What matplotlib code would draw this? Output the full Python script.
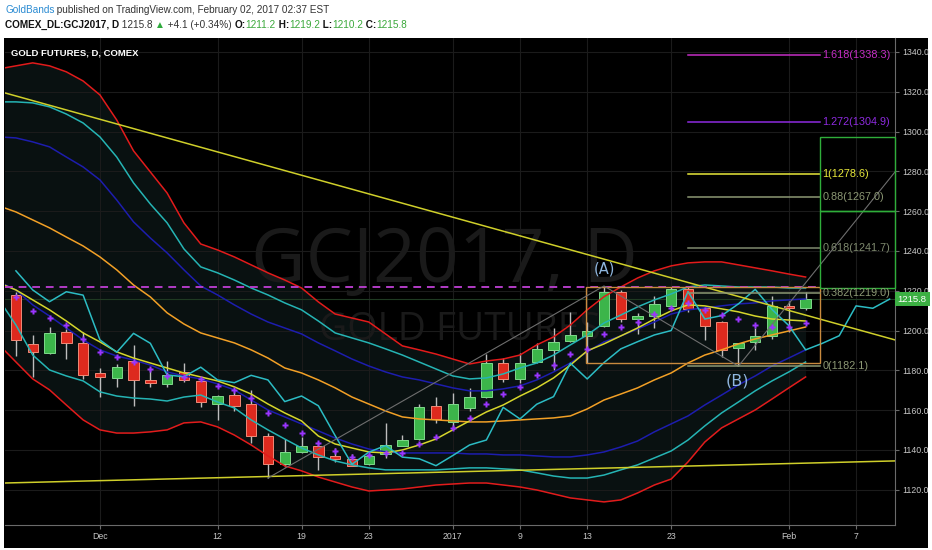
import numpy as np
import matplotlib
matplotlib.use("Agg")
import matplotlib.pyplot as plt
import matplotlib.transforms as mtrans
from matplotlib.patches import Rectangle
from matplotlib import font_manager

# --- candles (bar index 0 = 1 Dec 2016, trading days only) ---
bar_idx = list(range(-5, 43))
opens = [1217.9, 1193.1, 1188.6, 1199.1, 1193.6, 1178.6, 1176.3, 1184.7, 1175.2, 1173.1, 1179.0, 1174.7,
         1163.1, 1167.6, 1163.0, 1147.2, 1133.0, 1138.9, 1142.2, 1137.0, 1135.5, 1133.0, 1138.0, 1142.2,
         1145.4, 1162.1, 1154.3, 1161.3, 1166.5, 1183.6, 1175.9, 1184.1, 1190.2, 1194.8, 1197.4, 1202.5,
         1219.6, 1205.8, 1207.1, 1212.4, 1220.7, 1211.2, 1204.2, 1191.1, 1194.4, 1197.3, 1212.4, 1211.2]
highs = [1219.4, 1197.8, 1202.0, 1200.6, 1199.5, 1181.0, 1183.2, 1192.8, 1181.0, 1184.9, 1183.6, 1176.0,
         1167.5, 1169.3, 1170.2, 1148.7, 1145.4, 1146.7, 1144.2, 1141.0, 1137.8, 1138.3, 1153.4, 1147.5,
         1163.0, 1166.5, 1168.5, 1171.0, 1188.2, 1186.0, 1188.9, 1193.6, 1201.5, 1209.5, 1204.5, 1222.4,
         1220.4, 1209.0, 1217.4, 1222.1, 1222.1, 1212.0, 1204.8, 1193.6, 1201.2, 1217.4, 1214.9, 1219.2]
lows = [1187.2, 1176.8, 1188.0, 1185.7, 1175.5, 1166.4, 1171.5, 1162.1, 1171.8, 1171.5, 1174.4, 1161.4,
        1155.3, 1159.8, 1143.4, 1125.9, 1131.6, 1138.5, 1130.0, 1133.9, 1132.0, 1132.5, 1135.9, 1141.8,
        1145.0, 1153.7, 1150.0, 1159.8, 1166.0, 1174.4, 1173.5, 1183.8, 1180.1, 1194.5, 1183.6, 1201.7,
        1204.5, 1198.3, 1201.2, 1211.0, 1209.5, 1195.3, 1186.9, 1182.1, 1190.3, 1195.6, 1199.5, 1210.2]
closes = [1195.3, 1189.1, 1198.6, 1193.6, 1177.7, 1176.8, 1181.6, 1175.2, 1173.8, 1177.5, 1175.2, 1164.3,
          1167.1, 1162.2, 1147.2, 1132.8, 1138.9, 1142.2, 1136.4, 1135.6, 1132.1, 1137.2, 1142.5, 1145.0,
          1161.4, 1155.6, 1163.0, 1166.8, 1183.6, 1175.7, 1183.9, 1190.8, 1194.4, 1197.8, 1200.0, 1219.6,
          1205.8, 1207.5, 1213.4, 1220.7, 1210.6, 1202.5, 1190.3, 1193.6, 1197.4, 1212.4, 1211.2, 1215.8]
closes_before = [1230.0, 1220.4, 1214.5, 1219.5, 1217.8]  # 5 bars left of the window
close_shift = 5

# purple crosses
cross_vals = [1217.0, 1210.0, 1206.2, 1202.8, 1195.6, 1189.1, 1186.9, 1184.4, 1180.6, 1177.4, 1176.8, 1175.5,
              1172.3, 1170.2, 1166.0, 1158.7, 1152.6, 1148.7, 1143.7, 1139.7, 1136.6, 1137.5, 1138.3, 1138.6,
              1142.8, 1146.4, 1150.9, 1156.2, 1163.0, 1168.1, 1171.5, 1177.7, 1182.7, 1188.2, 1190.8, 1198.3,
              1201.7, 1204.5, 1208.2, 1211.2, 1213.7, 1210.5, 1207.8, 1205.6, 1202.8, 1202.0, 1202.0, 1204.0]

# --- bands ---
band_idx = list(range(-6, 43))
red_up = [1331.5, 1333.0, 1334.5, 1333.0, 1330.0, 1325.4, 1318.4, 1305.8, 1290.3, 1279.7, 1269.1, 1254.1,
          1243.5, 1240.5, 1237.0, 1233.0, 1229.0, 1225.4, 1221.4, 1214.4, 1208.3, 1206.3, 1204.3, 1198.3,
          1192.3, 1190.3, 1188.2, 1185.7, 1183.2, 1184.7, 1185.7, 1187.7, 1192.8, 1196.8, 1202.8, 1210.4,
          1217.0, 1221.9, 1226.4, 1230.0, 1232.5, 1234.0, 1234.5, 1234.5, 1233.0, 1231.5, 1230.0, 1228.4, 1226.9]
red_lo = [1192.8, 1184.2, 1175.7, 1170.2, 1162.6, 1155.1, 1150.1, 1148.5, 1148.5, 1149.1, 1150.1, 1153.6,
          1154.1, 1151.6, 1147.5, 1142.5, 1137.0, 1132.0, 1129.5, 1126.4, 1123.9, 1121.4, 1119.4, 1119.9,
          1120.4, 1121.4, 1122.4, 1122.9, 1123.4, 1123.4, 1122.4, 1121.4, 1119.9, 1117.9, 1115.9, 1114.9,
          1113.9, 1114.9, 1118.4, 1122.4, 1125.4, 1134.0, 1144.0, 1151.1, 1155.6, 1160.1, 1165.6, 1171.2, 1176.7]
cyan_up = [1314.9, 1314.9, 1314.4, 1312.4, 1308.8, 1304.3, 1297.3, 1287.2, 1274.2, 1263.6, 1254.1, 1241.0,
           1232.0, 1229.0, 1225.4, 1221.4, 1217.9, 1213.9, 1210.4, 1204.8, 1198.8, 1196.3, 1193.8, 1190.8,
           1187.7, 1184.2, 1180.7, 1177.2, 1175.7, 1176.2, 1178.2, 1181.2, 1183.7, 1187.7, 1192.8, 1197.8,
           1203.8, 1207.8, 1211.9, 1215.4, 1218.4, 1221.9, 1222.9, 1222.4, 1221.9, 1221.9, 1221.9, 1221.4, 1221.4]
cyan_lo = [1215.4, 1202.8, 1187.7, 1180.2, 1177.2, 1174.7, 1169.2, 1167.1, 1166.1, 1165.6, 1164.6, 1166.6,
           1167.6, 1164.1, 1161.1, 1155.1, 1150.1, 1145.5, 1141.0, 1137.5, 1134.5, 1132.5, 1131.0, 1130.0,
           1130.0, 1130.0, 1130.0, 1130.5, 1131.0, 1131.0, 1130.5, 1130.0, 1128.5, 1126.9, 1125.9, 1125.9,
           1127.4, 1130.0, 1132.5, 1136.0, 1139.5, 1145.0, 1152.1, 1158.6, 1164.1, 1169.7, 1174.7, 1179.2, 1184.2]
blue_up = [1297.3, 1296.8, 1294.8, 1292.3, 1287.2, 1282.2, 1275.7, 1265.6, 1254.6, 1246.5, 1239.0, 1230.5,
           1222.4, 1217.9, 1212.9, 1208.3, 1204.3, 1201.3, 1198.3, 1193.8, 1189.8, 1185.7, 1182.2, 1179.2,
           1176.7, 1175.2, 1173.2, 1171.2, 1169.7, 1169.7, 1170.7, 1172.2, 1175.2, 1179.2, 1183.7, 1189.3,
           1194.3, 1197.3, 1200.8, 1204.3, 1208.3, 1210.4, 1211.4, 1212.4, 1213.4, 1213.9, 1214.9, 1215.4, 1215.9]
blue_lo = [1224.4, 1220.4, 1212.9, 1207.3, 1201.3, 1195.3, 1190.3, 1187.2, 1185.2, 1182.7, 1179.2, 1177.2,
           1175.7, 1173.2, 1170.2, 1165.1, 1160.1, 1156.6, 1153.1, 1149.6, 1146.0, 1143.0, 1140.5, 1139.0,
           1138.5, 1138.5, 1138.5, 1138.5, 1138.0, 1138.0, 1137.5, 1137.5, 1137.0, 1136.5, 1136.5, 1137.5,
           1139.0, 1141.5, 1144.5, 1149.1, 1153.1, 1157.1, 1162.6, 1167.6, 1172.7, 1177.2, 1182.2, 1186.2, 1190.3]
orange_mid = [1262.6, 1259.6, 1255.6, 1251.6, 1247.0, 1242.5, 1237.0, 1230.5, 1222.9, 1216.9, 1208.9, 1203.3,
              1198.8, 1196.3, 1193.8, 1190.3, 1186.2, 1181.2, 1178.7, 1175.2, 1171.2, 1166.6, 1163.1, 1159.6,
              1156.6, 1155.6, 1155.1, 1154.6, 1154.1, 1154.1, 1154.6, 1155.1, 1155.6, 1156.1, 1157.1, 1160.6,
              1165.1, 1168.1, 1171.2, 1175.2, 1178.7, 1183.7, 1187.7, 1190.3, 1193.3, 1195.8, 1197.8, 1199.8, 1201.8]
yellow_ma = [1223.9, 1220.4, 1215.4, 1210.4, 1204.8, 1198.8, 1194.3, 1189.3, 1186.2, 1183.7, 1181.2, 1178.7,
             1176.7, 1174.7, 1171.7, 1168.1, 1163.1, 1158.6, 1154.6, 1147.0, 1143.0, 1141.0, 1139.0, 1138.5,
             1140.0, 1142.5, 1145.5, 1150.1, 1154.6, 1159.1, 1162.6, 1167.1, 1171.2, 1176.2, 1182.7, 1189.8,
             1193.3, 1197.3, 1201.3, 1205.8, 1209.9, 1212.9, 1212.4, 1210.9, 1209.4, 1207.3, 1205.8, 1205.3, 1204.8]

# --- drawings ---
x_left, x_right = -5.65, 47.32
trend_down = [1319.4, 1195.3]      # at x_left, x_right
trend_bottom = [1123.4, 1134.5]
fib_x = [10, 30, 38]               # X, A, B
fib_p = [1125.9, 1222.4, 1182.1]
fib_ratio = ["0", "0.382", "0.618", "0.88", "1", "1.272", "1.618"]
fib_price = [1182.1, 1219.0, 1241.7, 1267.0, 1278.6, 1304.9, 1338.3]
fib_cols = ["#8c9874", "#8c9874", "#7f8a6e", "#8c9874", "#e8e83a", "#8e2be0", "#c62ec6"]
fib_start, fib_end = 35, 42.85
box_price = [1183.6, 1221.9]
box_x = [28.9, 42.85]
pos_box = [1221.6, 1260.1, 1297.3]
diag_end = 1279.7
hi_line = 1221.9

tick_pos = [0, 7, 12, 16, 21, 25, 29, 34, 41, 45]
tick_lab = ["Dec", "12", "19", "23", "2017", "9", "13", "23", "Feb", "7"]

names = {f.name for f in font_manager.fontManager.ttflist}
NARROW = ["Liberation Sans Narrow", "DejaVu Sans"] if "Liberation Sans Narrow" in names else ["Liberation Sans", "DejaVu Sans"]
W, H = 932, 550

fig = plt.figure(figsize=(W / 100, H / 100), dpi=100, facecolor="white")
fig.patches.append(Rectangle((4 / W, 2 / H), 924 / W, 510 / H, transform=fig.transFigure,
                             facecolor="black", edgecolor="none", zorder=-10))
ax = fig.add_axes([5 / W, 1 - 525 / H, 890 / W, 487 / H], facecolor="black")
ax.set_xlim(x_left, x_right)
ax.set_ylim(1102.3, 1347.0)

# grid
ax.set_axisbelow(True)
ax.grid(True, color="#1b1b1b", lw=0.8)

# watermark
ax.text(0.494, 0.54, "GCJ2017, D", transform=ax.transAxes, ha="center", va="center",
        fontsize=54, family="Open Sans", color="#1a1a1a", zorder=0.6)
ax.text(0.511, 0.40, "GOLD FUTURES", transform=ax.transAxes, ha="center", va="center",
        fontsize=28, family="Open Sans", color="#1a1a1a", zorder=0.6)

# band fill
ax.fill_between(band_idx, red_lo, red_up, color="#091111", lw=0, zorder=0.5)

# candles
o = np.array(opens); c = np.array(closes)
up = c >= o
ax.vlines(bar_idx, lows, highs, color="#bdbdbd", lw=1, zorder=2)
body = np.maximum(np.abs(c - o), 0.8)
ax.bar(np.array(bar_idx)[up], body[up], bottom=np.minimum(o, c)[up], width=0.62,
       color="#3cb54a", edgecolor="#7ed98a", lw=0.7, zorder=3)
ax.bar(np.array(bar_idx)[~up], body[~up], bottom=np.minimum(o, c)[~up], width=0.62,
       color="#dd2a1e", edgecolor="#f08a78", lw=0.7, zorder=3)

# indicator lines
lw = 1.1
for vals, col in [(red_up, "#e21b1b"), (red_lo, "#e21b1b"), (cyan_up, "#25b4b4"), (cyan_lo, "#25b4b4"),
                  (blue_up, "#1d1dae"), (blue_lo, "#1d1dae"), (orange_mid, "#f2a026"), (yellow_ma, "#d6d62c")]:
    ax.plot(band_idx, vals, color=col, lw=lw, zorder=4)

shift_x = np.arange(bar_idx[0], bar_idx[-1] + 1 + close_shift)
ax.plot(shift_x, closes_before + closes, color="#2cbcc4", lw=lw, zorder=4)

ax.plot(bar_idx, cross_vals, ls="none", marker="P", ms=4.5, color="#9b35ff", mec="none", zorder=5)

# trend lines
ax.plot([x_left, x_right], trend_down, color="#cfcf2a", lw=1.1, zorder=4)
ax.plot([x_left, x_right], trend_bottom, color="#cfcf2a", lw=1.1, zorder=4)

# last price line
ax.axhline(closes[-1], color="#1f3a22", lw=0.8, zorder=1)

# A high dashed
ax.plot([x_left, fib_end], [hi_line, hi_line], color="#b23cc6", lw=1.4, ls=(0, (4, 3)), zorder=4)

# orange box
ax.add_patch(Rectangle((box_x[0], box_price[0]), box_x[1] - box_x[0], box_price[1] - box_price[0],
                       fill=False, edgecolor="#c98a3e", lw=1, zorder=4))

# fib connector + projection diagonal
ax.plot(fib_x, fib_p, color="#6e6e6e", lw=0.8, zorder=4)
ax.plot([fib_x[2], x_right], [fib_p[2], diag_end], color="#6e6e6e", lw=0.8, zorder=4)

# fib levels
for r, p, col in zip(fib_ratio, fib_price, fib_cols):
    ax.plot([fib_start, fib_end], [p, p], color=col, lw=1.1, zorder=4)
    ax.text(fib_end + 0.15, p, f"{r}({p:.1f})", color=col, fontsize=7.8, family=NARROW,
            va="center", ha="left", zorder=6)

# green position boxes
for lo, hi in [(pos_box[0], pos_box[1]), (pos_box[1], pos_box[2])]:
    ax.add_patch(Rectangle((fib_end, lo), x_right - fib_end, hi - lo, fill=False,
                           edgecolor="#2fae3a", lw=1, zorder=4, clip_on=False))

# wave labels
ax.text(fib_x[1], fib_p[1] + 8.5, "(A)", color="#8fb6de", fontsize=10.5, ha="center", va="center", zorder=6)
ax.text(fib_x[2] - 0.05, fib_p[2] - 7.5, "(B)", color="#8fb6de", fontsize=11.5, ha="center", va="center", zorder=6)

# axes styling
for s in ["top", "left"]:
    ax.spines[s].set_visible(False)
ax.spines["right"].set_color("#6a6a6a")
ax.spines["bottom"].set_color("#6a6a6a")
ax.yaxis.tick_right()
yt = np.arange(1120, 1341, 20)
ax.set_yticks(yt)
ax.set_yticklabels([f"{v:.1f}" for v in yt], family=NARROW)
ax.set_xticks(tick_pos)
ax.set_xticklabels(tick_lab, family=NARROW)
ax.tick_params(axis="both", colors="#6a6a6a", labelcolor="#c8c8c8", labelsize=6.3, length=3, pad=2)

# last price tag
tr = mtrans.blended_transform_factory(ax.transAxes, ax.transData)
ax.text(1.003, closes[-1], f"{closes[-1]:.1f}", transform=tr, color="white", fontsize=6.8,
        family=NARROW, va="center", ha="left", zorder=7,
        bbox=dict(boxstyle="square,pad=0.3", fc="#3cb043", ec="none"))

# chart title
fig.text(11 / W, 1 - 53 / H, "GOLD FUTURES, D, COMEX", color="white", fontsize=6.8,
         fontweight="bold", family=NARROW, va="center", ha="left")

# header
renderer = fig.canvas.get_renderer()


def header_line(pieces, x_px, y_px):
    for s, col, wt in pieces:
        t = fig.text(x_px / W, 1 - y_px / H, s, color=col, fontweight=wt, fontsize=7.2,
                     family=NARROW, va="center", ha="left")
        x_px += t.get_window_extent(renderer=renderer).width


header_line([("GoldBands", "#2a8bd2", "normal"),
             (" published on TradingView.com, February 02, 2017 02:37 EST", "#333333", "normal")], 5, 10)
green = "#3aa83a"
header_line([("COMEX_DL:GCJ2017, D", "#111111", "bold"), (f" {closes[-1]:.1f} ", "#333333", "normal"),
             ("▲", "#2eaa3c", "normal"), (" +4.1 (+0.34%) ", "#333333", "normal"),
             ("O:", "#111111", "bold"), (f"{opens[-1]:.1f}", green, "normal"),
             (" H:", "#111111", "bold"), (f"{highs[-1]:.1f}", green, "normal"),
             (" L:", "#111111", "bold"), (f"{lows[-1]:.1f}", green, "normal"),
             (" C:", "#111111", "bold"), (f"{closes[-1]:.1f}", green, "normal")], 5, 25)

fig.savefig("out.png", dpi=100, facecolor="white")
